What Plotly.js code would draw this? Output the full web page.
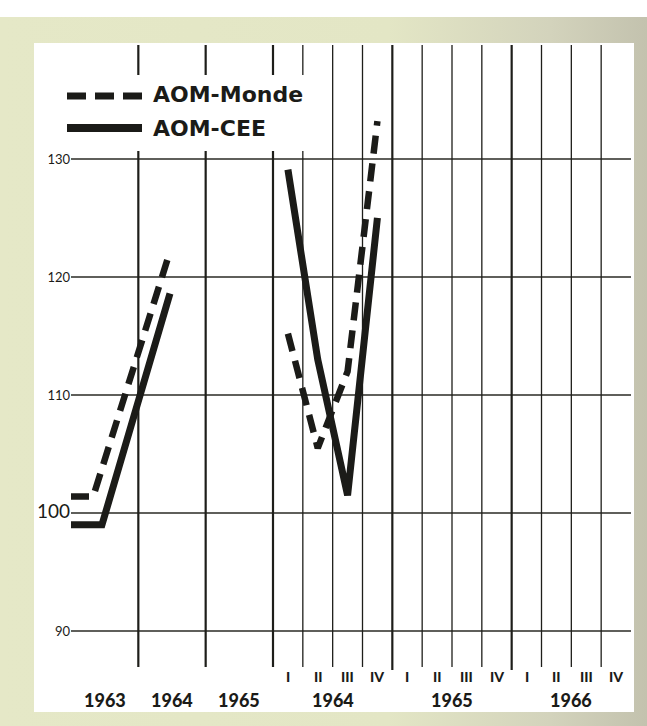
<!DOCTYPE html>
<html>
<head>
<meta charset="utf-8">
<script src="https://cdn.plot.ly/plotly-3.0.1.min.js"></script>
<style>
  html, body { margin: 0; padding: 0; background: #ffffff; }
  #wrap { position: relative; width: 647px; height: 726px; overflow: hidden; }
  #frame { position: absolute; left: 0; top: 17px; width: 647px; height: 709px;
           background: linear-gradient(to right, #e5e8c7 0%, #e3e6c5 60%, #d3d3bc 85%, #c3c2ae 100%); }
  #panel { position: absolute; left: 34px; top: 43px; width: 600px; height: 669px; background: #ffffff; }
  #chart { position: absolute; left: 0; top: 0; width: 647px; height: 726px; }
</style>
</head>
<body>
<div id="wrap">
  <div id="frame"></div>
  <div id="panel"></div>
  <div id="chart"></div>
</div>
<script>
// ---- data ----
const seriesNames = ['AOM-Monde', 'AOM-CEE'];
const annualYears = ['1963', '1964', '1965'];
const quarterLabels = ['I', 'II', 'III', 'IV'];
const quarterYears = ['1964', '1965', '1966'];
const yTicks = [90, 100, 110, 120, 130];

// annual panel (position within year columns, 0 = start of 1963)
const annualPosMonde = [0, 0.33, 1.45];
const annualMonde = [101.4, 101.4, 121.8];
const annualPosCEE = [0, 0.46, 1.47];
const annualCEE = [99.0, 99.0, 118.6];

// quarterly panel, 1964 I-IV (quarter centres)
const quarterPos = [0.5, 1.5, 2.5, 3.5];
const quarterMonde = [115.2, 105.5, 112.0, 133.2];
const quarterCEE = [129.1, 113.0, 101.5, 125.0];

// ---- layout helpers ----
const W = 647, H = 726;
const mL = 71, mR = 16, mT = 45, mB = 59;
const plotW = W - mL - mR, plotH = H - mT - mB;
const split = (273 - mL) / plotW;           // boundary annual | quarterly
const ink = '#1b1b18';
const dashTrace = '18px,10px';

const traces = [
  { x: annualPosMonde, y: annualMonde, xaxis: 'x', yaxis: 'y', mode: 'lines', name: seriesNames[0],
    line: { color: ink, width: 6.5, dash: dashTrace }, showlegend: false, hoverinfo: 'skip' },
  { x: annualPosCEE, y: annualCEE, xaxis: 'x', yaxis: 'y', mode: 'lines', name: seriesNames[1],
    line: { color: ink, width: 7 }, showlegend: false, hoverinfo: 'skip' },
  { x: quarterPos, y: quarterMonde, xaxis: 'x2', yaxis: 'y', mode: 'lines', name: seriesNames[0],
    line: { color: ink, width: 6.5, dash: dashTrace }, showlegend: false, hoverinfo: 'skip' },
  { x: quarterPos, y: quarterCEE, xaxis: 'x2', yaxis: 'y', mode: 'lines', name: seriesNames[1],
    line: { color: ink, width: 7 }, showlegend: false, hoverinfo: 'skip' }
];

const shapes = [];
// horizontal grid lines
yTicks.forEach(v => shapes.push({ type: 'line', xref: 'paper', yref: 'y', x0: 0, x1: 1, y0: v, y1: v,
  layer: 'below', line: { color: '#2a2a24', width: 1.3 } }));
// annual column boundaries
[1, 2].forEach(v => shapes.push({ type: 'line', xref: 'x', yref: 'paper', x0: v, x1: v, y0: 0, y1: 1,
  layer: 'below', line: { color: '#1e1e1a', width: 2.2 } }));
// boundary between the two panels
shapes.push({ type: 'line', xref: 'paper', yref: 'paper', x0: split, x1: split, y0: 0, y1: 1,
  layer: 'below', line: { color: '#1e1e1a', width: 2.2 } });
// quarterly boundaries
for (let q = 1; q < 12; q++) {
  const thick = (q % 4 === 0);
  shapes.push({ type: 'line', xref: 'x2', yref: 'paper', x0: q, x1: q, y0: thick ? -0.005 : 0, y1: 1,
    layer: 'below', line: { color: '#1e1e1a', width: thick ? 2.2 : 1.3 } });
}
// legend box (white, hides grid lines behind the legend)
const px = v => (v - mL) / plotW;
const py = v => (H - mB - v) / plotH;
shapes.push({ type: 'rect', xref: 'paper', yref: 'paper', x0: px(38), x1: px(322), y0: py(151), y1: py(75),
  layer: 'below', fillcolor: '#ffffff', line: { width: 0 } });
// legend samples
shapes.push({ type: 'line', xref: 'paper', yref: 'paper', x0: px(67), x1: px(142), y0: py(96), y1: py(96),
  layer: 'below', line: { color: ink, width: 7, dash: '19px,9px' } });
shapes.push({ type: 'line', xref: 'paper', yref: 'paper', x0: px(67), x1: px(142), y0: py(128), y1: py(128),
  layer: 'below', line: { color: ink, width: 8 } });

const boldFont = (s) => ({ family: 'Lato, "Open Sans", sans-serif', size: s, color: ink, weight: 900 });
const annotations = [];
annotations.push({ text: '<b>' + seriesNames[0] + '</b>', xref: 'paper', yref: 'paper', x: px(151), y: py(95),
  xanchor: 'left', yanchor: 'middle', showarrow: false,
  font: { family: '"DejaVu Sans", sans-serif', size: 22, color: ink } });
annotations.push({ text: '<b>' + seriesNames[1] + '</b>', xref: 'paper', yref: 'paper', x: px(151), y: py(128),
  xanchor: 'left', yanchor: 'middle', showarrow: false,
  font: { family: '"DejaVu Sans", sans-serif', size: 22, color: ink } });

annualYears.forEach((yr, i) => annotations.push({ text: yr, xref: 'x', yref: 'paper',
  x: i + 0.5, y: py(700), xanchor: 'center', yanchor: 'middle', showarrow: false, font: boldFont(18) }));
quarterYears.forEach((yr, i) => annotations.push({ text: yr, xref: 'x2', yref: 'paper',
  x: i * 4 + 2, y: py(700), xanchor: 'center', yanchor: 'middle', showarrow: false, font: boldFont(18) }));
quarterYears.forEach((yr, i) => quarterLabels.forEach((q, j) => annotations.push({ text: q,
  xref: 'x2', yref: 'paper', x: i * 4 + j + 0.5, y: py(676), xanchor: 'center', yanchor: 'middle',
  showarrow: false, font: boldFont(14) })));

const layout = {
  width: W, height: H,
  margin: { l: mL, r: mR, t: mT, b: mB, pad: 0 },
  paper_bgcolor: 'rgba(0,0,0,0)', plot_bgcolor: 'rgba(0,0,0,0)',
  font: { family: 'Lato, sans-serif', color: ink },
  showlegend: false,
  xaxis: { domain: [0, split], range: [0, 3], anchor: 'y', showgrid: false, zeroline: false,
           showticklabels: false, ticks: '', showline: false, fixedrange: true },
  xaxis2: { domain: [split, 1], range: [0, 12], anchor: 'y', showgrid: false, zeroline: false,
            showticklabels: false, ticks: '', showline: false, fixedrange: true },
  yaxis: { range: [86.95, 139.66], anchor: 'x', tickvals: yTicks,
           ticktext: yTicks.map(v => v === 100 ? '<span style="font-size:19px">100</span>' : String(v)),
           tickfont: { family: 'Lato, sans-serif', size: 13, color: ink },
           showgrid: false, zeroline: false, showline: false, ticks: '', fixedrange: true },
  shapes: shapes,
  annotations: annotations
};

Plotly.newPlot('chart', traces, layout, { staticPlot: true, displayModeBar: false });
</script>
</body>
</html>
